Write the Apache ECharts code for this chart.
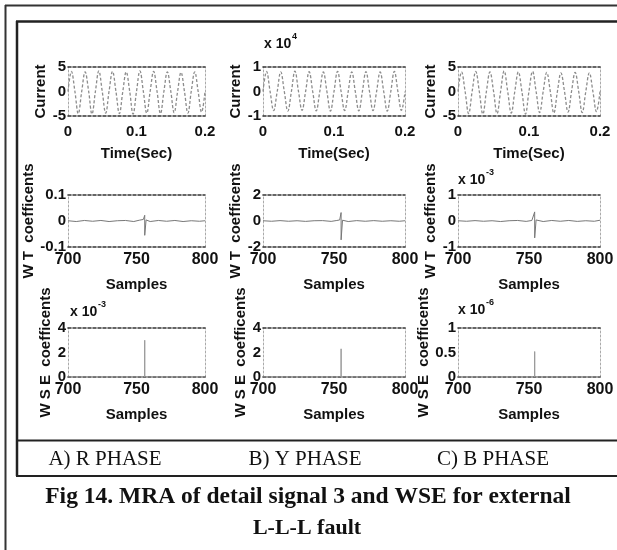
<!DOCTYPE html>
<html><head><meta charset="utf-8">
<script src="https://cdn.jsdelivr.net/npm/echarts@6.0.0/dist/echarts.min.js"></script>
<style>html,body{margin:0;padding:0;background:#fff}#c{width:617px;height:550px}</style>
</head><body><div id="c"></div>
<script>
// ---------- data ----------
const timeSec = [0,0.005,0.01,0.015,0.02,0.025,0.03,0.035,0.04,0.045,0.05,0.055,0.06,0.065,0.07,0.075,0.08,0.085,0.09,0.095,0.1,0.105,0.11,0.115,0.12,0.125,0.13,0.135,0.14,0.145,0.15,0.155,0.16,0.165,0.17,0.175,0.18,0.185,0.19,0.195,0.2];
const currentR = [0,4.1,0.1,-4.5,0, 4.0,0.2,-4.6,0,4.2, 0,-4.4,0.1,4.1,0, -4.5,0,4.0,0.1,-4.6, 0,4.2,0,-4.4,0.1, 4.1,0,-4.5,0,4.0, 0.1,-4.3,0,3.9,0, -4.4,0.1,4.0,0,-4.2, 0];
const currentY = [0,0.82,0,-0.78,0, 0.8,0,-0.8,0,0.83, 0,-0.77,0,0.81,0, -0.79,0,0.8,0,-0.8, 0,0.82,0,-0.78,0, 0.8,0,-0.79,0,0.81, 0,-0.78,0,0.8,0, -0.8,0,0.82,0,-0.77, 0];
const currentB = [0,4.0,0,-4.5,0.1, 4.1,0,-4.6,0,4.0, 0.1,-4.5,0,4.2,0, -4.4,0,4.0,0,-4.6, 0.1,4.1,0,-4.3,0, 3.9,0,-4.4,0,3.8, 0,-4.2,0.1,3.9,0, -4.3,0,3.8,0,-4.1, 0];
const timeTicks = [0, 0.1, 0.2];

const wtSamplesR = [700,706,712,718,724,730,736,742,748,752,755,756,756,757,760,766,772,778,784,790,796,800];
const wtR =        [0.001,-0.002,0.002,-0.001,0.002,-0.002,0.001,0.002,-0.002,0.003,0.006,0.022,-0.055,0.004,-0.002,0.002,-0.001,0.002,-0.002,0.001,-0.001,0.001];
const wtSamplesY = [700,706,712,718,724,730,736,742,748,752,754,755,755,756,760,766,772,778,784,790,796,800];
const wtY =        [0.02,-0.02,0.03,-0.02,0.02,-0.03,0.02,0.03,-0.03,0.04,0.08,0.65,-1.45,0.06,-0.04,0.03,-0.02,0.03,-0.02,0.02,-0.02,0.02];
const wtSamplesB = [700,706,712,718,724,730,736,742,748,752,753,754,754,755,760,766,772,778,784,790,796,800];
const wtB =        [0.01,-0.01,0.015,-0.01,0.01,-0.02,0.01,0.02,-0.015,0.02,0.04,0.35,-0.65,0.04,-0.02,0.02,-0.01,0.02,-0.015,0.01,-0.01,0.03];

const wseSamplesR = [700,756,756,756,800];
const wseR =        [0,0,3.0,0,0];
const wseSamplesY = [700,755,755,755,800];
const wseY =        [0,0,2.3,0,0];
const wseSamplesB = [700,754,754,754,800];
const wseB =        [0,0,0.52,0,0];
const sampleTicks = [700, 750, 800];

const phaseLabels = ['A) R PHASE', 'B) Y PHASE', 'C) B PHASE'];
const captionLine1 = 'Fig 14. MRA of detail signal 3 and WSE for external';
const captionLine2 = 'L-L-L fault';

// ---------- layout ----------
const SANS = "'Liberation Sans',Arial,sans-serif";
const SERIF = "'Liberation Serif','Times New Roman',serif";
const cols = [{left:68,width:137},{left:263,width:142},{left:458,width:142}];
const rows = [{top:67,height:49},{top:195,height:52},{top:328,height:49}];

const panels = [
  {r:0,c:0,x:timeSec,y:currentR,xr:[0,0.2,0.1],yr:[-5,5,5],yname:'Current',ygap:14,xname:'Time(Sec)'},
  {r:0,c:1,x:timeSec,y:currentY,xr:[0,0.2,0.1],yr:[-1,1,1],yname:'Current',ygap:13,xname:'Time(Sec)'},
  {r:0,c:2,x:timeSec,y:currentB,xr:[0,0.2,0.1],yr:[-5,5,5],yname:'Current',ygap:17,xname:'Time(Sec)'},
  {r:1,c:0,x:wtSamplesR,y:wtR,xr:[700,800,50],yr:[-0.1,0.1,0.1],yname:'W T  coefficents',ygap:22,xname:'Samples'},
  {r:1,c:1,x:wtSamplesY,y:wtY,xr:[700,800,50],yr:[-2,2,2],yname:'W T  coefficents',ygap:13,xname:'Samples'},
  {r:1,c:2,x:wtSamplesB,y:wtB,xr:[700,800,50],yr:[-1,1,1],yname:'W T  coefficents',ygap:17,xname:'Samples'},
  {r:2,c:0,x:wseSamplesR,y:wseR,xr:[700,800,50],yr:[0,4,2],yname:'W S E  coefficents',ygap:13,xname:'Samples'},
  {r:2,c:1,x:wseSamplesY,y:wseY,xr:[700,800,50],yr:[0,4,2],yname:'W S E  coefficents',ygap:12,xname:'Samples'},
  {r:2,c:2,x:wseSamplesB,y:wseB,xr:[700,800,50],yr:[0,1,0.5],yname:'W S E  coefficents',ygap:22,xname:'Samples'}
];

const grid=[], xAxis=[], yAxis=[], series=[];
const tickLbl = {color:'#111', fontFamily:SANS, fontWeight:'bold', fontSize:15};
const dashedDark = {show:true, onZero:false, lineStyle:{color:'#333', width:1.6, type:[3,2]}};
const dottedSide = {show:true, onZero:false, lineStyle:{color:'#aaa', width:1, type:[2,2]}};

panels.forEach((p,i)=>{
  grid.push({left:cols[p.c].left, top:rows[p.r].top, width:cols[p.c].width, height:rows[p.r].height});
  const xb = {type:'value', gridIndex:i, min:p.xr[0], max:p.xr[1], interval:p.xr[2],
    axisLine:dashedDark, axisTick:{show:false}, splitLine:{show:false},
    axisLabel:Object.assign({margin: p.r===0?8:5, showMinLabel:true, showMaxLabel:true}, tickLbl, {fontSize: p.r===0?15:16}),
    name:p.xname, nameLocation:'middle', nameGap:30,
    nameTextStyle:{color:'#111', fontFamily:SANS, fontWeight:'bold', fontSize:15}};
  const xt = {type:'value', gridIndex:i, position:'top', min:p.xr[0], max:p.xr[1], interval:p.xr[2],
    axisLine:dashedDark, axisTick:{show:false}, axisLabel:{show:false}, splitLine:{show:false}};
  const yl = {type:'value', gridIndex:i, min:p.yr[0], max:p.yr[1], interval:p.yr[2],
    axisLine:dottedSide, axisTick:{show:false}, splitLine:{show:false},
    axisLabel:Object.assign({margin:2}, tickLbl),
    name:p.yname, nameLocation:'middle', nameRotate:90, nameGap:p.ygap,
    nameTextStyle:{color:'#111', fontFamily:SANS, fontWeight:'bold', fontSize:15}};
  const yr = {type:'value', gridIndex:i, position:'right', min:p.yr[0], max:p.yr[1], interval:p.yr[2],
    axisLine:dottedSide, axisTick:{show:false}, axisLabel:{show:false}, splitLine:{show:false}};
  xAxis.push(xb, xt); yAxis.push(yl, yr);
  const isWave = p.r===0;
  series.push({type:'line', xAxisIndex:2*i, yAxisIndex:2*i, showSymbol:false, smooth:isWave?0.4:false,
    silent:true, animation:false,
    data:p.x.map((v,k)=>[v,p.y[k]]),
    lineStyle:{color:isWave?'#8c8c8c':(p.r===1?'#777':'#999'), width:isWave?1.3:1, type:isWave?[3,2]:'solid'}});
});

// exponent labels (text), frames, phase labels, caption
function expo(x,y,e){
  return [{type:'text', x:x, y:y, style:{text:'x 10', font:"bold 14px "+SANS, fill:'#111'}},
          {type:'text', x:x+28, y:y-5, style:{text:e, font:"bold 9px "+SANS, fill:'#111'}}];
}
const graphic = [].concat(
  [
   {type:'line', shape:{x1:5,y1:5.5,x2:617,y2:5.5}, style:{stroke:'#333', lineWidth:2}},
   {type:'line', shape:{x1:5.5,y1:5,x2:5.5,y2:550}, style:{stroke:'#333', lineWidth:2}},
   {type:'line', shape:{x1:16,y1:21.5,x2:617,y2:21.5}, style:{stroke:'#222', lineWidth:2.5}},
   {type:'line', shape:{x1:17,y1:21,x2:17,y2:476}, style:{stroke:'#222', lineWidth:2.5}},
   {type:'line', shape:{x1:16,y1:440.5,x2:617,y2:440.5}, style:{stroke:'#222', lineWidth:2}},
   {type:'line', shape:{x1:16,y1:476,x2:617,y2:476}, style:{stroke:'#222', lineWidth:2}}
  ],
  expo(264,37,'4'), expo(458,173,'-3'), expo(70,305,'-3'), expo(458,303,'-6'),
  phaseLabels.map((t,k)=>({type:'text', x:[105,305,493][k], y:459,
    style:{text:t, font:"21px "+SERIF, fill:'#111', textAlign:'center', textVerticalAlign:'middle'}})),
  [{type:'text', x:308, y:497, style:{text:captionLine1, font:"bold 23.5px "+SERIF, fill:'#111', textAlign:'center', textVerticalAlign:'middle'}},
   {type:'text', x:307, y:528, style:{text:captionLine2, font:"bold 22px "+SERIF, fill:'#111', textAlign:'center', textVerticalAlign:'middle'}}]
);

const chart = echarts.init(document.getElementById('c'), null, {renderer:'canvas'});
chart.setOption({backgroundColor:'#fff', animation:false, grid, xAxis, yAxis, series, graphic});
</script></body></html>
